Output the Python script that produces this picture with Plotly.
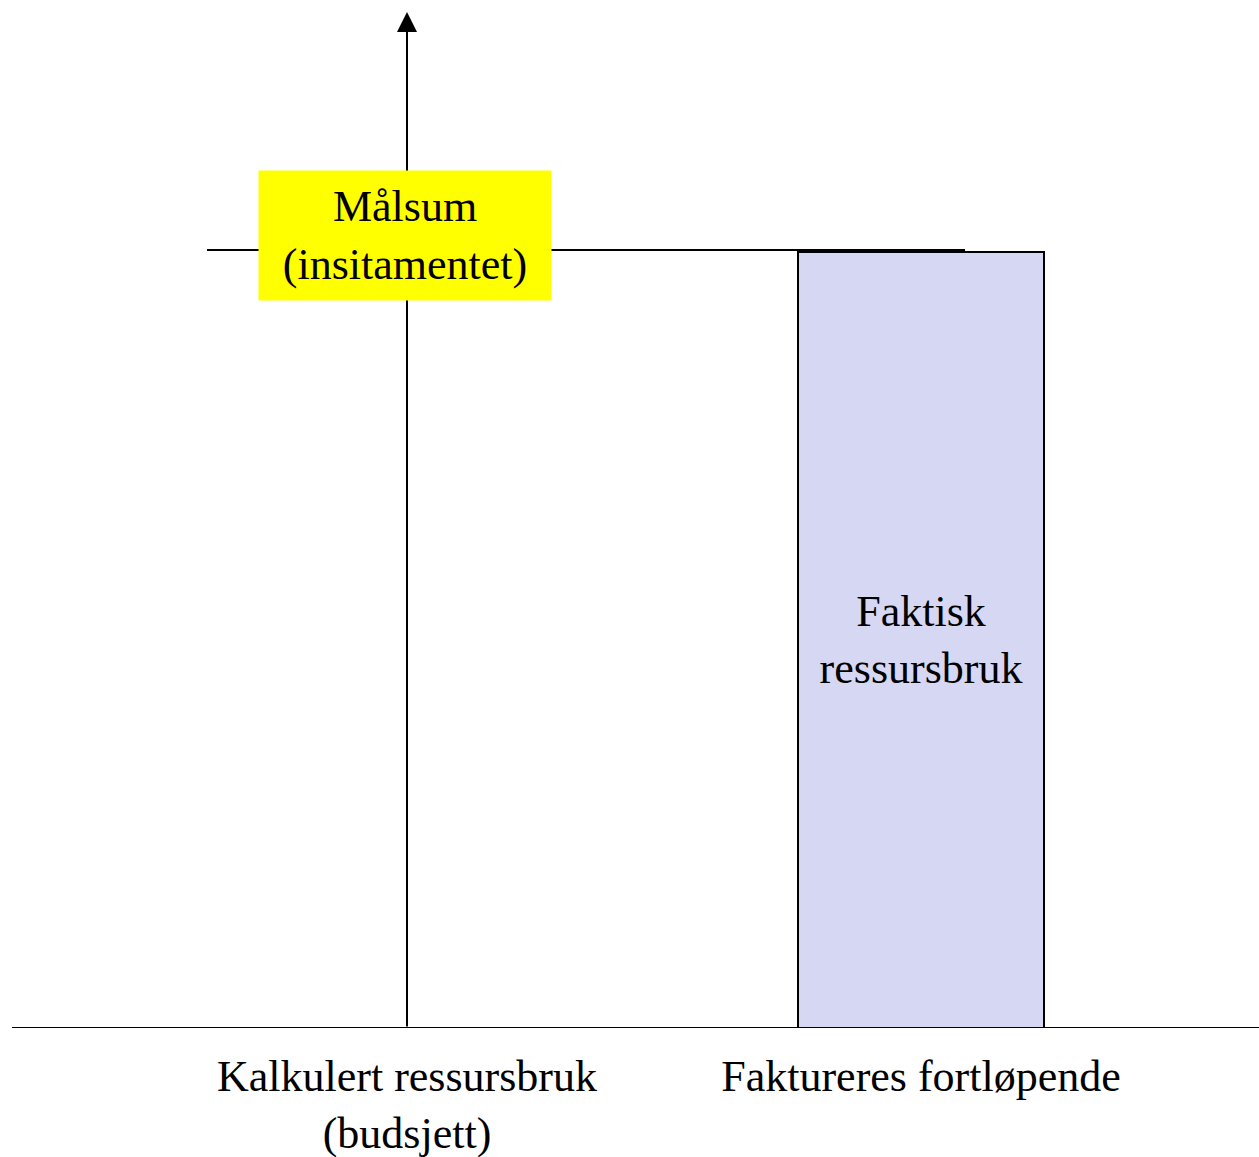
import plotly.graph_objects as go

categories = ["Kalkulert ressursbruk<br>(budsjett)", "Faktureres fortløpende"]
cat_pos = [0, 1]
malsum_value = 100.0
actual_value = 99.7
malsum_label = "Målsum<br>(insitamentet)"
bar_label = "Faktisk<br>ressursbruk"

FONT = "Liberation Serif, Times New Roman, serif"
W, H = 1259, 1157
px_per_x = 514.0
x0_px = 407.0
base_px = 1028.0
px_per_y = (1028.0 - 250.0) / malsum_value

def xd(px):
    return (px - x0_px) / px_per_x

y_top = base_px / px_per_y

fig = go.Figure()
fig.add_trace(go.Bar(
    x=[cat_pos[1]], y=[actual_value], width=0.48,
    marker=dict(color="#D6D7F3", line=dict(color="black", width=2)),
    text=[bar_label], textposition="inside", insidetextanchor="middle",
    textfont=dict(family=FONT, size=44, color="black"),
    textangle=0, hoverinfo="skip", showlegend=False,
))

# baseline
fig.add_shape(type="line", xref="x", yref="y", x0=xd(12), x1=xd(1259), y0=0, y1=0,
              line=dict(color="black", width=2), layer="above")
# target level line
fig.add_shape(type="line", xref="x", yref="y", x0=xd(207), x1=xd(965),
              y0=malsum_value, y1=malsum_value, line=dict(color="black", width=2), layer="below")
# vertical axis with arrow
fig.add_annotation(x=cat_pos[0], y=(base_px - 12) / px_per_y, ax=cat_pos[0], ay=0,
                   xref="x", yref="y", axref="x", ayref="y", text="",
                   showarrow=True, arrowhead=2, arrowsize=2, arrowwidth=2, arrowcolor="black")
# yellow label
fig.add_annotation(x=cat_pos[0], y=malsum_value, xref="x", yref="y", text=malsum_label,
                   showarrow=False, bgcolor="#FFFF00", width=292, height=129, borderpad=0,
                   yshift=15, xshift=-2,
                   font=dict(family=FONT, size=44, color="black"))

fig.update_layout(
    width=W, height=H, margin=dict(l=0, r=0, t=0, b=H - int(base_px), autoexpand=False),
    plot_bgcolor="white", paper_bgcolor="white",
    xaxis=dict(range=[xd(0), xd(W)], tickvals=cat_pos, ticktext=categories,
               showgrid=False, zeroline=False, showline=False, automargin=False,
               ticks="outside", ticklen=9, tickcolor="rgba(0,0,0,0)",
               tickfont=dict(family=FONT, size=44, color="black"), fixedrange=True),
    yaxis=dict(range=[0, y_top], visible=False, fixedrange=True, automargin=False),
    bargap=0,
)
fig.write_html(
    "out.html", config={"displayModeBar": False},
    post_script=(
        "var d=document.documentElement,b=document.body;"
        "d.style.margin='0';d.style.padding='0';d.style.overflow='hidden';"
        "b.style.margin='0';b.style.padding='0';b.style.overflow='hidden';"
    ),
)
